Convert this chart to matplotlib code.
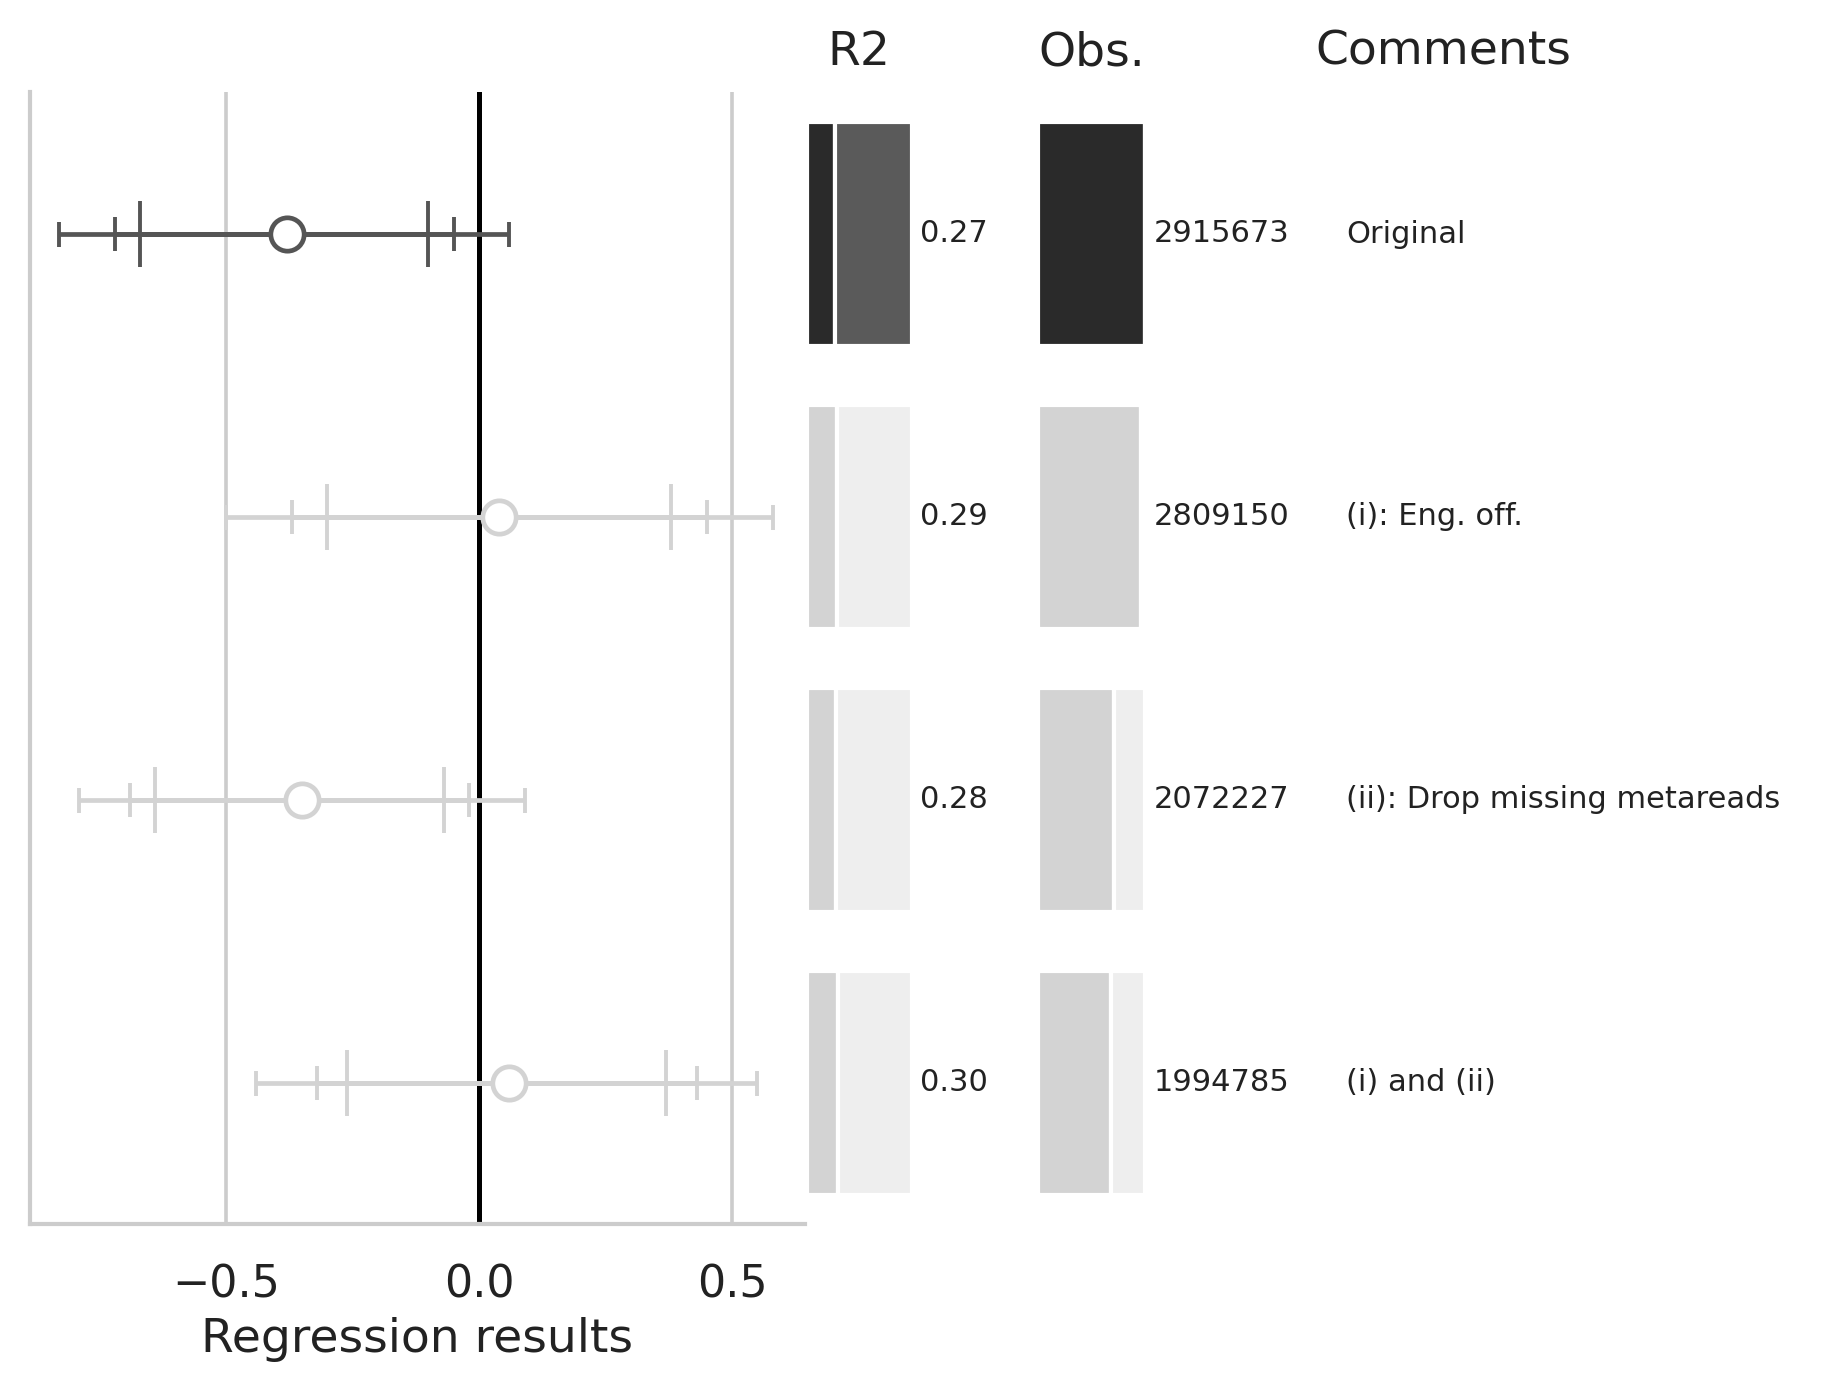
import matplotlib
matplotlib.use("Agg")
import matplotlib.pyplot as plt

est = [-0.38, 0.04, -0.35, 0.06]
lo99 = [-0.83, -0.50, -0.79, -0.44]; hi99 = [0.06, 0.58, 0.09, 0.55]
lo95 = [-0.72, -0.37, -0.69, -0.32]; hi95 = [-0.05, 0.45, -0.02, 0.43]
lo90 = [-0.67, -0.30, -0.64, -0.26]; hi90 = [-0.10, 0.38, -0.07, 0.37]
r2 = [0.27, 0.29, 0.28, 0.30]
obs = [2915673, 2809150, 2072227, 1994785]
comments = ["Original", "(i): Eng. off.", "(ii): Drop missing metareads", "(i) and (ii)"]
highlight = [True, False, False, False]

W, H = 1560, 1181
fig = plt.figure(figsize=(9.225, 6.985), dpi=200)
def ax_px(x0, x1):
    return fig.add_axes([x0/W, 1-1035/H, (x1-x0)/W, (1035-78)/H])

ax = ax_px(25, 681)
ax.set_xlim(-0.888, 0.645); ax.set_ylim(3.5, -0.5)
for g in [-0.5, 0.5]:
    ax.axvline(g, color='#cccccc', lw=1.3, zorder=0)
ax.axvline(0, color='black', lw=1.8, zorder=1)
for i in range(4):
    c = '#555555' if highlight[i] else '#d3d3d3'
    for lo, hi, cs in [(lo99, hi99, 4.5), (lo95, hi95, 6), (lo90, hi90, 12)]:
        ax.errorbar([est[i]], [i], xerr=[[est[i]-lo[i]], [hi[i]-est[i]]], fmt='none',
                    ecolor=c, elinewidth=1.7, capsize=cs, capthick=1.4, zorder=2)
    ax.plot(est[i], i, 'o', ms=12, mfc='white', mec=c, mew=1.7, zorder=3)
ax.set_yticks([])
ax.set_xticks([-0.5, 0.0, 0.5]); ax.set_xticklabels(['−0.5', '0.0', '0.5'])
ax.tick_params(axis='x', labelsize=16, length=0, pad=14, colors='#222222')
ax.set_xlabel('Regression results', fontsize=17, color='#222222')
for s in ['top', 'right']:
    ax.spines[s].set_visible(False)
for s in ['left', 'bottom']:
    ax.spines[s].set_color('#cccccc'); ax.spines[s].set_linewidth(1.5)

def bar_panel(x0, x1, vals, full, labels, title, tx):
    a = ax_px(x0, x1)
    a.set_xlim(0, full); a.set_ylim(3.5, -0.5); a.axis('off')
    for i, v in enumerate(vals):
        c1, c2 = ('#2a2a2a', '#5a5a5a') if highlight[i] else ('#d3d3d3', '#eeeeee')
        if title == 'Obs.' and highlight[i]:
            c2 = c1
        a.barh(i, v, height=0.79, color=c1, edgecolor='white', lw=1.5)
        a.barh(i, full-v, left=v, height=0.79, color=c2, edgecolor='white', lw=1.5)
        a.text(1.0 + tx, i, labels[i], transform=a.get_yaxis_transform(),
               va='center', ha='left', fontsize=11, color='#222222')
    a.text(0.5, 1.035, title, transform=a.transAxes, ha='center', va='center',
           fontsize=17, color='#222222')
    return a

bar_panel(682, 771, r2, 1.0, [f"{v:.2f}" for v in r2], 'R2', 0.08)
ob = bar_panel(878, 968, obs, max(obs), [str(v) for v in obs], 'Obs.', 0.08)
for i, c in enumerate(comments):
    fig.text(1138/W, 1-(198+239*i)/H, c, va='center', ha='left', fontsize=11, color='#222222')
fig.text(1220/W, 1-44/H, 'Comments', ha='center', va='center', fontsize=17, color='#222222')
fig.savefig('out.png', dpi=200)
